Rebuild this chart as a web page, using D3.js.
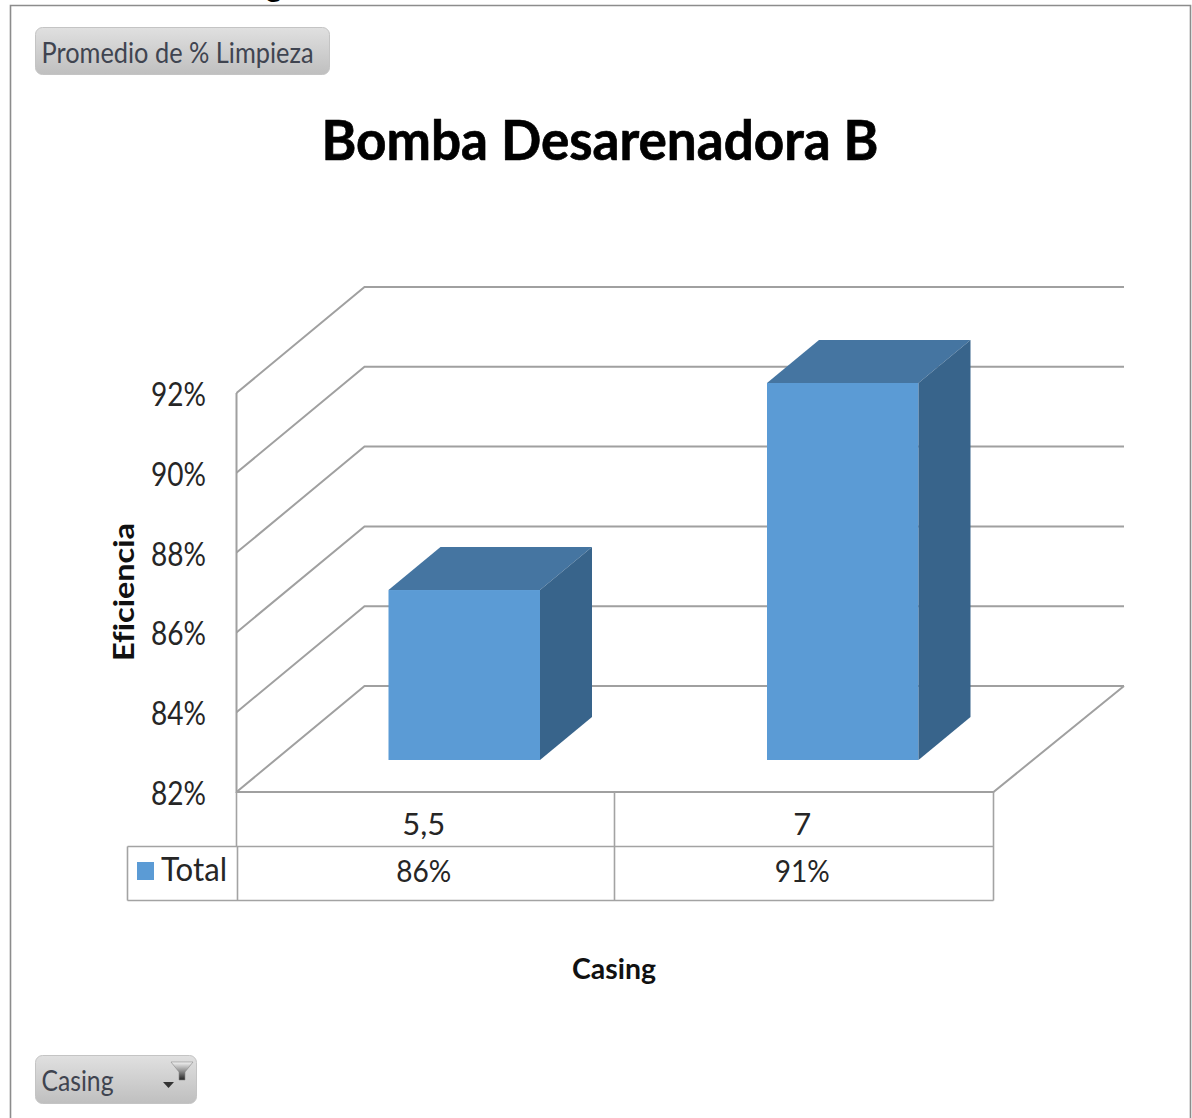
<!DOCTYPE html>
<html><head><meta charset="utf-8">
<script src="https://cdn.jsdelivr.net/npm/d3@7"></script>
<style>html,body{margin:0;padding:0;background:#fff}svg{display:block}text{font-family:Lato,"Open Sans",sans-serif;fill:#262626;font-variant-ligatures:none}</style>
</head><body><svg id="c" width="1192" height="1118"></svg>
<script>
const chartTitle = "Bomba Desarenadora B";
const categories = ["5,5", "7"];
const values = [86.26, 91.45];
const tableLabels = ["86%", "91%"];
const yTicks = [82, 84, 86, 88, 90, 92];
const seriesName = "Total";
const xTitle = "Casing", yTitle = "Eficiencia";
const filterLabels = ["Promedio de % Limpieza", "Casing"];

const svg = d3.select("#c");
const W = 1192, H = 1118;
const grid = "#a0a0a0", tbl = "#a3a3a3";
const front = "#5b9bd5", topC = "#4575a1", side = "#38648b";

const defs = svg.append("defs");
const g = defs.append("linearGradient").attr("id","btn").attr("x1",0).attr("x2",0).attr("y1",0).attr("y2",1);
g.append("stop").attr("offset",0).attr("stop-color","#e0e0e0");
g.append("stop").attr("offset",1).attr("stop-color","#bfbfbf");
const f = defs.append("linearGradient").attr("id","fun").attr("x1",0).attr("x2",0).attr("y1",0).attr("y2",1);
f.append("stop").attr("offset",0).attr("stop-color","#f4f4f4");
f.append("stop").attr("offset",0.45).attr("stop-color","#9a9a9a");
f.append("stop").attr("offset",1).attr("stop-color","#222");

// scales
const y = d3.scaleLinear().domain([82, 92]).range([792, 393]);
const x = d3.scaleBand().domain(categories).range([236.5, 993.5]);
const depth = {dx: 128, dy: -106};
const barDepth = {dx: 52, dy: -43};
const barInset = {dx: 38, dy: -32};
const barW = 151.5;

// frame
svg.append("path").attr("d",`M10.5 ${H}V5.5H1190.5V${H}`).attr("fill","none").attr("stroke","#8c8c8c").attr("stroke-width",1.6);
svg.append("text").attr("x",266).attr("y",-3).attr("font-size",30).attr("font-weight",700).style("fill","#000").text("g");

// title
svg.append("text").attr("x",600).attr("y",160).attr("text-anchor","middle").attr("font-size",55).attr("font-weight",700)
  .attr("textLength",557).attr("lengthAdjust","spacingAndGlyphs").style("fill","#000").attr("stroke","#000").attr("stroke-width",0.7).text(chartTitle);

// walls + gridlines
const gridG = svg.append("g").attr("fill","none").attr("stroke",grid).attr("stroke-width",2);
gridG.selectAll("path").data(yTicks).join("path")
  .attr("d", d => {
    const x0 = 236.5, y0 = y(d);
    const xb = x0 + depth.dx, yb = y0 + depth.dy;
    return `M${x0} ${y0}L${xb} ${yb}H1124`;
  });
gridG.append("path").attr("d",`M236.5 ${y(92)}V${y(82)}H993.5L1124 ${y(82)+depth.dy}`);

// bars
const bars = svg.append("g").selectAll("g").data(categories.map((c,i)=>({c,v:values[i]}))).join("g");
const bx = d => x(d.c) + x.bandwidth()/2 + barInset.dx - barW/2 + 0.5;
const bb = y(82) + barInset.dy;
const bt = d => y(d.v) + barInset.dy;
bars.append("rect").attr("x",bx).attr("y",bt).attr("width",barW).attr("height",d=>bb-bt(d)).attr("fill",front);
bars.append("path").attr("fill",topC).attr("d",d=>{
  const l=bx(d),r=l+barW,t=bt(d);
  return `M${l} ${t}L${l+barDepth.dx} ${t+barDepth.dy}H${r+barDepth.dx}L${r} ${t}Z`;
});
bars.append("path").attr("fill",side).attr("d",d=>{
  const r=bx(d)+barW,t=bt(d);
  return `M${r} ${t}L${r+barDepth.dx} ${t+barDepth.dy}V${bb+barDepth.dy}L${r} ${bb}Z`;
});

// y tick labels
svg.append("g").selectAll("text").data(yTicks).join("text")
  .attr("x",206).attr("y",d=>y(d)+13).attr("text-anchor","end").attr("font-size",32)
  .attr("textLength",55).attr("lengthAdjust","spacingAndGlyphs").text(d=>d+"%");

// data table
const tg = svg.append("g").attr("fill","none").attr("stroke",tbl).attr("stroke-width",1.6);
tg.append("path").attr("d",`M236.5 792V846.5M127.5 846.5H993.5M127.5 900.5H993.5M127.5 846.5V900.5M237.5 846.5V900.5M614.5 792V900.5M993.5 792V900.5`);
svg.append("g").selectAll("text").data(categories).join("text")
  .attr("x",d=>x(d)+x.bandwidth()/2-2).attr("y",835).attr("text-anchor","middle").attr("font-size",31).text(d=>d);
svg.append("g").selectAll("text").data(tableLabels).join("text")
  .attr("x",(d,i)=>x(categories[i])+x.bandwidth()/2-2).attr("y",882).attr("text-anchor","middle").attr("font-size",31)
  .attr("textLength",55).attr("lengthAdjust","spacingAndGlyphs").text(d=>d);
svg.append("rect").attr("x",137).attr("y",862).attr("width",17).attr("height",18).attr("fill",front);
svg.append("text").attr("x",161).attr("y",881).attr("font-size",32).attr("textLength",66).attr("lengthAdjust","spacingAndGlyphs").text(seriesName);

// axis titles
svg.append("text").attr("x",614).attr("y",979).attr("text-anchor","middle").attr("font-size",29).attr("font-weight",700)
  .attr("textLength",84).attr("lengthAdjust","spacingAndGlyphs").style("fill","#111").text(xTitle);
svg.append("text").attr("transform","translate(134,592) rotate(-90)").attr("text-anchor","middle").attr("font-size",28).attr("font-weight",700)
  .attr("textLength",138).attr("lengthAdjust","spacingAndGlyphs").style("fill","#111").text(yTitle);

// filter buttons
function button(bxx,byy,w,h,label,tw){
  svg.append("rect").attr("x",bxx).attr("y",byy).attr("width",w).attr("height",h).attr("rx",7)
    .attr("fill","url(#btn)").attr("stroke","#c4c4c4");
  svg.append("text").attr("x",bxx+6).attr("y",byy+35).attr("font-size",29).attr("textLength",tw).attr("lengthAdjust","spacingAndGlyphs")
    .style("fill","#3f4450").text(label);
}
button(35.5,27.5,294,47,filterLabels[0],272);
button(35.5,1055.5,161,48,filterLabels[1],72);
// dropdown arrow + funnel icons
svg.append("path").attr("d","M163 1082h11l-5.5 6z").attr("fill","#333");
svg.append("path").attr("d","M171 1062h22l-8 10v8h-6v-8z").attr("fill","url(#fun)").attr("stroke","#8a8a8a").attr("stroke-width",0.6);
</script></body></html>
